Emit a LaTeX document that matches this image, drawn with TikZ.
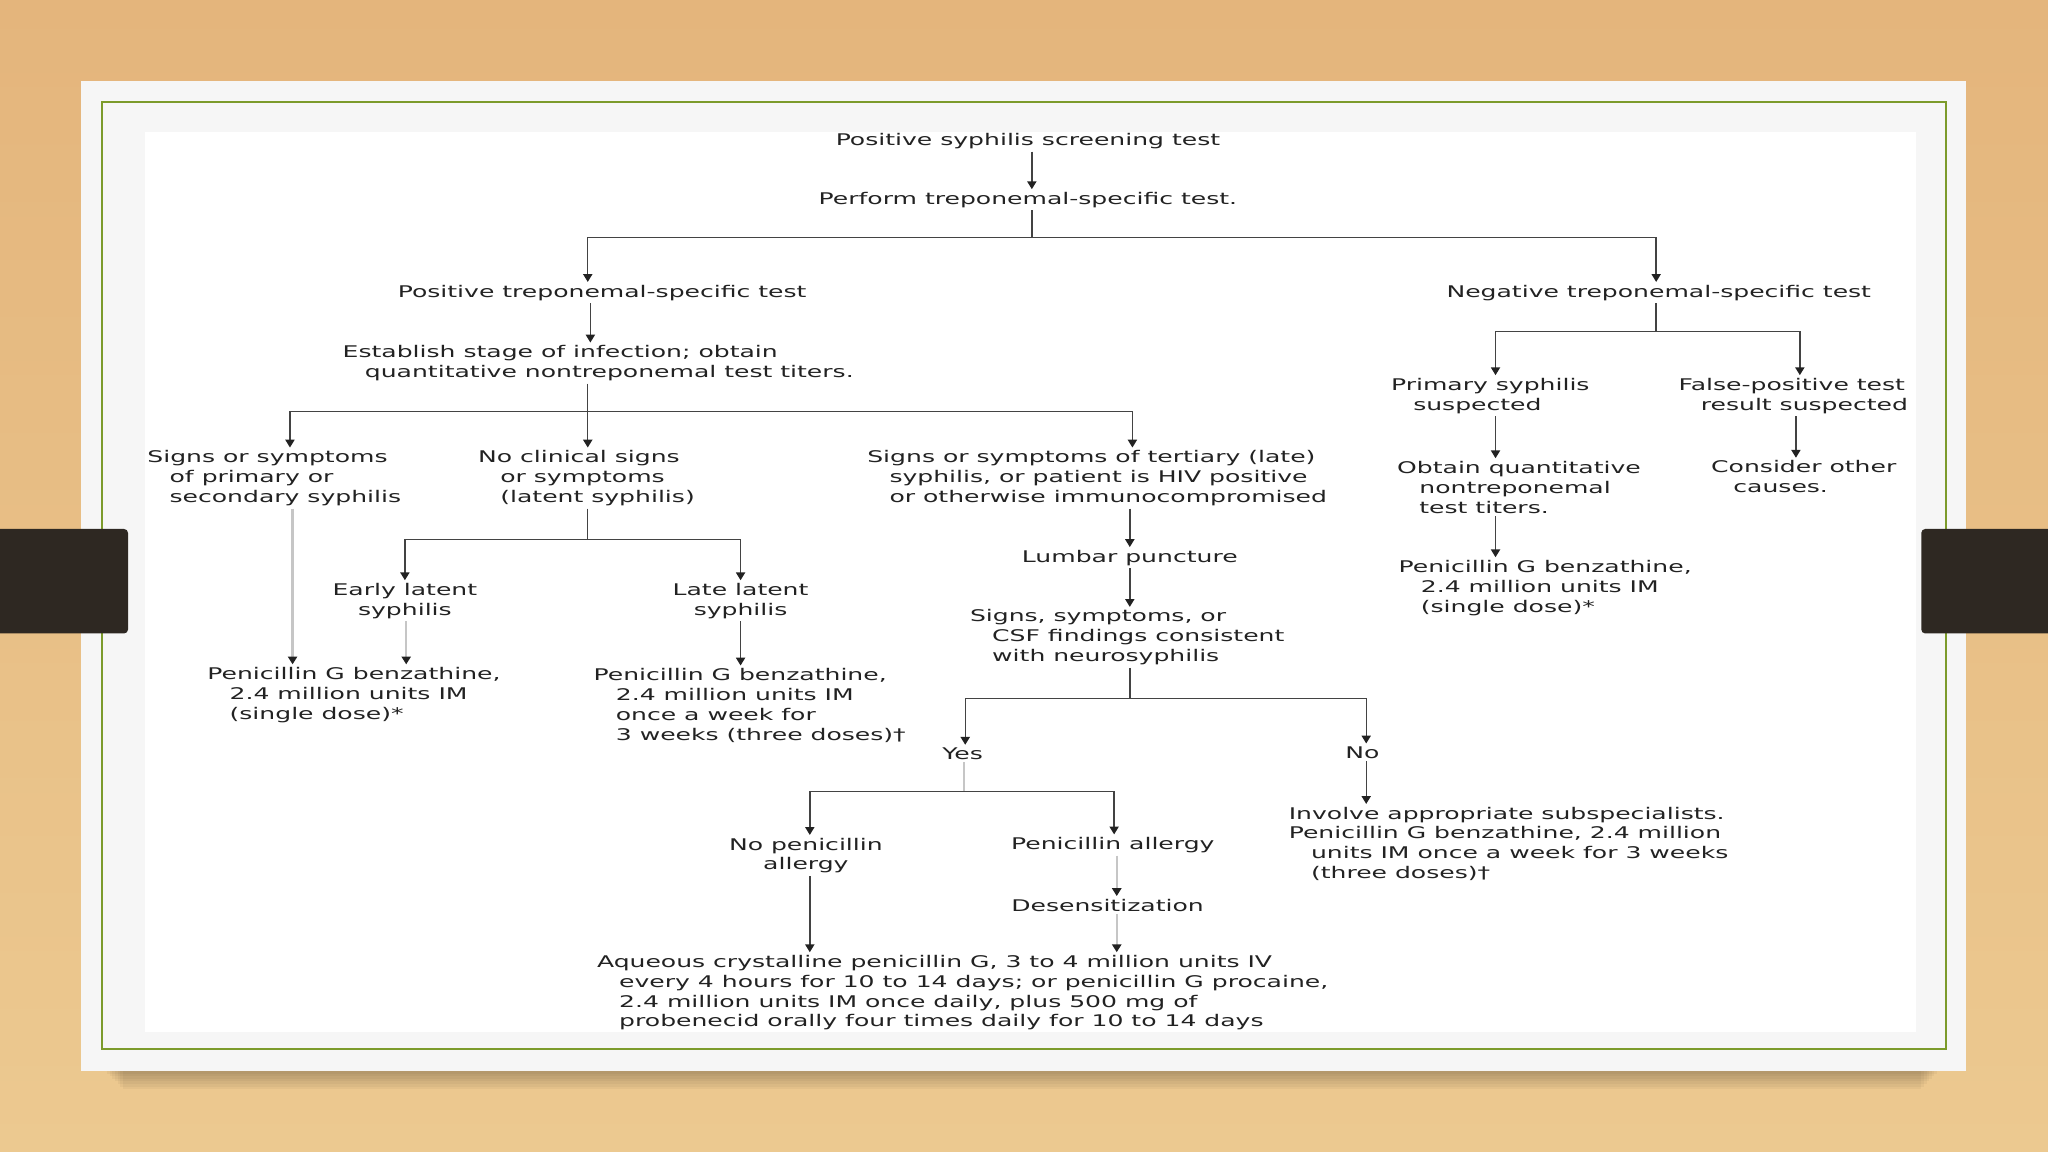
\documentclass[tikz,border=0pt]{standalone}
\usepackage{fontspec}
\setmainfont[FakeStretch=1.56]{DejaVu Sans}
\usetikzlibrary{arrows.meta,positioning}

\definecolor{wood}{HTML}{ECC990}
\definecolor{woodtop}{HTML}{E4B57C}
\definecolor{card}{HTML}{F6F6F6}
\definecolor{rim}{HTML}{7C9B2B}
\definecolor{tab}{HTML}{2E2822}
\definecolor{ink}{HTML}{222222}

\newcommand{\ind}{\hspace*{17pt}}

\tikzset{
  txt/.style={font=\fontsize{12.3}{15.2}\selectfont, align=left, inner sep=2pt, text=ink},
  ctxt/.style={txt, align=center},
  lnk/.style={draw=ink!85, line width=1.1pt},
  arr/.style={lnk, -{Triangle[width=7pt,length=6pt,color=ink]}},
  pale/.style={draw=gray!45, line width=1.8pt, -{Triangle[width=7pt,length=6pt,color=ink]}}
}

\begin{document}
\begin{tikzpicture}[x=1pt,y=-1pt]
    \useasboundingbox (0,0) rectangle (1568,882);
    % background and card
    \shade[top color=woodtop, bottom color=wood] (0,0) rectangle (1568,882);
    \foreach \d in {2,4,...,14}
        \fill[black,opacity=0.035] (80+\d,816) rectangle (1485-\d,820+\d);
    \fill[card] (62,62) rectangle (1505,820);
    \fill[white] (111,101) rectangle (1467,790);
    \draw[rim, line width=1.7pt] (78,78) rectangle (1490,803);
    \fill[tab, rounded corners=3pt] (-6,405) rectangle (98,485);
    \fill[tab, rounded corners=3pt] (1471,405) rectangle (1574,485);

    % nodes
    \node[txt] (scr) at (787,108) {Positive syphilis screening test};
    \node[txt] (perf) at (787,153) {Perform treponemal-specific test.};
    \node[txt] (pos) at (461,224) {Positive treponemal-specific test};
    \node[txt] (neg) at (1270,224) {Negative treponemal-specific test};
    \node[txt] (stage) at (458,278) {Establish stage of infection; obtain\\\ind quantitative nontreponemal test titers.};
    \node[txt] (prim) at (210,366) {Signs or symptoms\\\ind of primary or\\\ind secondary syphilis};
    \node[txt] (nocl) at (449,366) {No clinical signs\\\ind or symptoms\\\ind (latent syphilis)};
    \node[txt] (tert) at (840,366) {Signs or symptoms of tertiary (late)\\\ind syphilis, or patient is HIV positive\\\ind or otherwise immunocompromised};
    \node[ctxt] (early) at (310,460) {Early latent\\syphilis};
    \node[ctxt] (late) at (567,460) {Late latent\\syphilis};
    \node[txt] (pena) at (271,532) {Penicillin G benzathine,\\\ind 2.4 million units IM\\\ind (single dose)*};
    \node[txt] (penb) at (574,540) {Penicillin G benzathine,\\\ind 2.4 million units IM\\\ind once a week for\\\ind 3 weeks (three doses)†};
    \node[txt] (lumb) at (865,427) {Lumbar puncture};
    \node[txt] (csf) at (863,488) {Signs, symptoms, or\\\ind CSF findings consistent\\\ind with neurosyphilis};
    \node[txt] (yes) at (737,577) {Yes};
    \node[txt] (no) at (1043,576) {No};
    \node[ctxt] (nopen) at (617,655) {No penicillin\\allergy};
    \node[txt] (penal) at (852,647) {Penicillin allergy};
    \node[txt] (desens) at (848,693) {Desensitization};
    \node[txt] (aq) at (737,760) {Aqueous crystalline penicillin G, 3 to 4 million units IV\\\ind every 4 hours for 10 to 14 days; or penicillin G procaine,\\\ind 2.4 million units IM once daily, plus 500 mg of\\\ind probenecid orally four times daily for 10 to 14 days};
    \node[txt] (inv) at (1155,646) {Involve appropriate subspecialists.\\Penicillin G benzathine, 2.4 million\\\ind units IM once a week for 3 weeks\\\ind (three doses)†};
    \node[txt] (psusp) at (1141,303) {Primary syphilis\\\ind suspected};
    \node[txt] (fpos) at (1373,303) {False-positive test\\\ind result suspected};
    \node[txt] (obt) at (1163,373) {Obtain quantitative\\\ind nontreponemal\\\ind test titers.};
    \node[txt] (cons) at (1381,365) {Consider other\\\ind causes.};
    \node[txt] (penc) at (1183,450) {Penicillin G benzathine,\\\ind 2.4 million units IM\\\ind (single dose)*};

    % junctions
    \coordinate (j1) at (790,182);
    \coordinate (j2) at (450,315);
    \coordinate (j3) at (450,413);
    \coordinate (j4) at (865,535);
    \coordinate (j5) at (738,606);
    \coordinate (j6) at (1268,254);

    % connectors
    \draw[arr] ([xshift=3pt]scr.south) -- ([xshift=3pt]perf.north);
    \draw[lnk] (perf.south -| j1) -- (j1);
    \draw[arr] (j1) -| ([xshift=-11pt]pos.north);
    \draw[arr] (j1) -| ([xshift=-2pt]neg.north);
    \draw[arr] ([xshift=-9pt]pos.south) -- ([xshift=-9pt]pos.south |- stage.north);
    \draw[lnk] (stage.south -| j2) -- (j2);
    \draw[arr] (j2) -| ([xshift=12pt]prim.north);
    \draw[arr] (j2) -- (nocl.north -| j2);
    \draw[arr] (j2) -| ([xshift=27pt]tert.north);
    \draw[lnk] (nocl.south -| j3) -- (j3);
    \draw[arr] (j3) -| (early.north);
    \draw[arr] (j3) -| (late.north);
    \draw[pale] ([xshift=14pt]prim.south) -- ([xshift=14pt]prim.south |- pena.north);
    \draw[pale] ([xshift=1pt]early.south) -- ([xshift=1pt]early.south |- pena.north);
    \draw[arr] (late.south) -- (late.south |- penb.north);
    \draw[arr] (tert.south -| lumb) -- (lumb.north);
    \draw[arr] (lumb.south) -- (lumb.south |- csf.north);
    \draw[lnk] (csf.south -| j4) -- (j4);
    \draw[arr] (j4) -| ([xshift=2pt]yes.north);
    \draw[arr] (j4) -| ([xshift=3pt]no.north);
    \draw[pale, -] (yes.south -| j5) -- (j5);
    \draw[arr] (j5) -| ([xshift=3pt]nopen.north);
    \draw[arr] (j5) -| ([xshift=1pt]penal.north);
    \draw[arr] ([xshift=3pt]no.south) -- ([xshift=3pt]no.south |- inv.north);
    \draw[arr] ([xshift=3pt]nopen.south) -- ([xshift=3pt]nopen.south |- aq.north);
    \draw[pale] ([xshift=3pt]penal.south) -- ([xshift=3pt]penal.south |- desens.north);
    \draw[pale] ([xshift=3pt]penal.south |- desens.south) -- ([xshift=3pt]penal.south |- aq.north);
    \draw[lnk] (neg.south -| j6) -- (j6);
    \draw[arr] (j6) -| ([xshift=4pt]psusp.north);
    \draw[arr] (j6) -| ([xshift=5pt]fpos.north);
    \draw[arr] ([xshift=4pt]psusp.south) -- ([xshift=4pt]psusp.south |- obt.north);
    \draw[arr] ([xshift=2pt]fpos.south) -- ([xshift=2pt]fpos.south |- cons.north);
    \draw[arr] ([xshift=4pt]psusp.south |- obt.south) -- ([xshift=4pt]psusp.south |- penc.north);
\end{tikzpicture}
\end{document}
